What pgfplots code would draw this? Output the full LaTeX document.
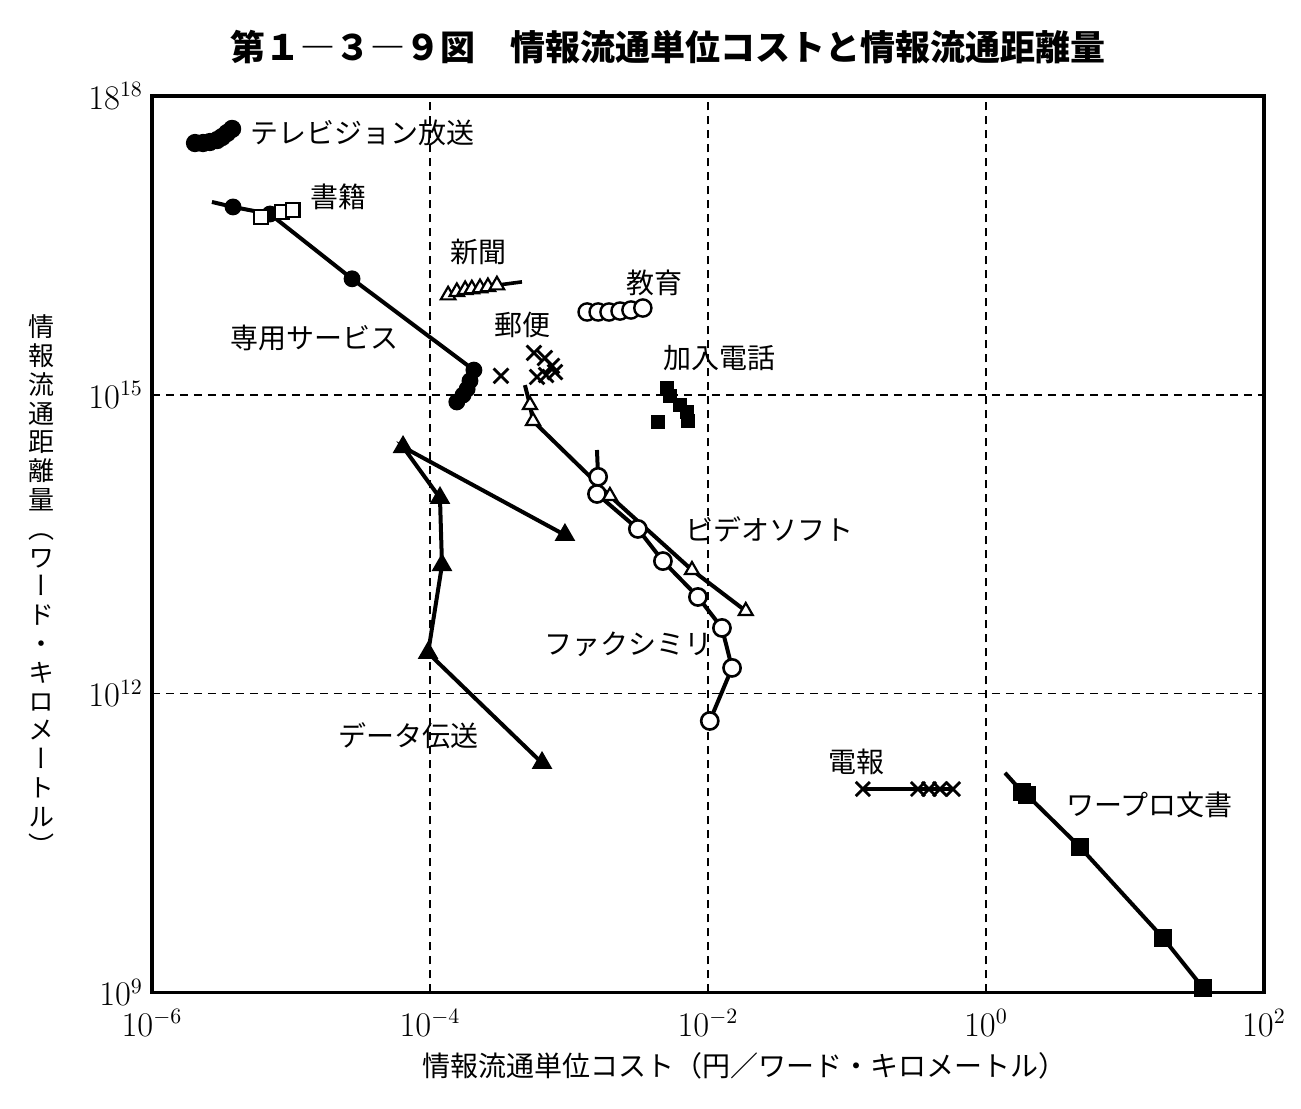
\documentclass[border=0pt]{standalone}
\usepackage{pgfplots}
\pgfplotsset{compat=1.18}
\usepackage{fontspec}
\newfontfamily\cjk{Noto Sans CJK JP}
\newfontfamily\cjkv[RawFeature=+vert]{Noto Sans CJK JP}

\begin{document}
\begin{tikzpicture}
\begin{loglogaxis}[
  scale only axis, width=556pt, height=448.2pt,
  xmin=1e-6, xmax=1e2, ymin=1e9, ymax=1e18,
  xtick={1e-6,1e-4,1e-2,1,1e2},
  xticklabels={$10^{-6}$,$10^{-4}$,$10^{-2}$,$10^{0}$,$10^{2}$},
  ytick={1e9,1e12,1e15,1e18},
  yticklabels={$10^{9}$,$10^{12}$,$10^{15}$,$18^{18}$},
  minor xtick={}, minor ytick={},
  tick style={draw=none},
  grid=major,
  major grid style={black, line width=0.9pt, dash pattern=on 4pt off 3pt},
  axis line style={line width=1.6pt},
  tick label style={font=\fontsize{16}{19}\selectfont},
  xticklabel style={yshift=-5pt},
  yticklabel style={xshift=-1pt},
  clip=false,
]
% テレビジョン放送
\addplot[black, line width=2.5pt, mark=*, mark size=3.3pt] table {
x y
2.04e-6 3.37e17
2.33e-6 3.37e17
2.61e-6 3.45e17
2.94e-6 3.61e17
3.19e-6 3.87e17
3.47e-6 4.25e17
3.77e-6 4.67e17
};
% 専用サービス
\addplot[black, line width=2pt, mark=*, mark size=3.2pt, mark indices={2,3,4,5,6,7,8,9}] table {
x y
2.70e-6 8.63e16
3.83e-6 7.69e16
7.06e-6 6.53e16
2.75e-5 1.46e16
2.07e-4 1.77e15
1.94e-4 1.38e15
1.85e-4 1.14e15
1.73e-4 9.95e14
1.56e-4 8.47e14
};
% 書籍
\addplot[black, line width=1.1pt, only marks, mark=square*, mark size=3.4pt, mark options={fill=white}] table {
x y
6.08e-6 6.10e16
8.61e-6 6.84e16
1.03e-5 7.16e16
};
% 新聞
\addplot[black, line width=1.8pt, mark=triangle*, mark size=4.2pt, mark options={fill=white, line width=1.1pt}, mark indices={1,2,3,4,5,6,7}] table {
x y
1.35e-4 1.00e16
1.56e-4 1.08e16
1.79e-4 1.13e16
2.00e-4 1.15e16
2.29e-4 1.18e16
2.61e-4 1.21e16
3.03e-4 1.26e16
4.59e-4 1.36e16
};
% 教育
\addplot[black, only marks, mark=*, mark size=4.3pt, mark options={fill=white, line width=1.2pt}] table {
x y
1.35e-3 6.78e15
1.62e-3 6.78e15
1.94e-3 6.78e15
2.33e-3 6.93e15
2.79e-3 7.10e15
3.40e-3 7.43e15
};
% 郵便
\addplot[black, only marks, mark=x, mark size=5.2pt, mark options={line width=1.4pt}] table {
x y
3.24e-4 1.55e15
5.60e-4 2.63e15
6.71e-4 2.34e15
7.55e-4 1.95e15
5.89e-4 1.51e15
6.84e-4 1.58e15
7.93e-4 1.69e15
};
% 加入電話
\addplot[black, only marks, mark=square*, mark size=3.3pt] table {
x y
5.07e-3 1.17e15
5.33e-3 9.73e14
6.30e-3 7.91e14
7.06e-3 6.72e14
7.18e-3 5.46e14
4.37e-3 5.33e14
};
% ファクシミリ
\addplot[black, line width=2pt, mark=*, mark size=4.3pt, mark options={fill=white, line width=1.3pt}, mark indices={2,3,4,5,6,7,8,9}] table {
x y
1.59e-3 2.79e14
1.62e-3 1.50e14
1.59e-3 1.01e14
3.13e-3 4.50e13
4.74e-3 2.14e13
8.47e-3 9.33e12
1.26e-2 4.56e12
1.49e-2 1.81e12
1.03e-2 5.31e11
};
% ビデオソフト
\addplot[black, line width=2pt, mark=triangle*, mark size=4pt, mark options={fill=white, line width=1.1pt}, mark indices={2,3,4,5,6}] table {
x y
4.82e-4 1.25e15
5.24e-4 7.91e14
5.51e-4 5.46e14
1.97e-3 9.64e13
7.67e-3 1.74e13
1.87e-2 6.75e12
};
% データ伝送
\addplot[black, line width=2pt, mark=triangle*, mark size=4pt] table {
x y
9.35e-4 3.91e13
6.40e-5 2.99e14
1.18e-4 9.20e13
1.22e-4 1.95e13
9.69e-5 2.56e12
6.40e-4 2.01e11
};
% 電報
\addplot[black, line width=2pt, mark=x, mark size=5pt, mark options={line width=1.4pt}] table {
x y
0.130 1.10e11
0.324 1.10e11
0.389 1.10e11
0.467 1.10e11
0.579 1.10e11
};
% ワープロ文書
\addplot[black, line width=2pt, mark=square*, mark size=3.5pt, mark indices={2,3,4,5,6}] table {
x y
1.37 1.60e11
1.82 1.03e11
1.97 9.60e10
4.74 2.88e10
18.8 3.52e9
36.4 1.11e9
};

\begin{scope}[every node/.style={anchor=west, inner sep=0pt, font=\cjk\fontsize{14}{16}\selectfont}]
\node at (rel axis cs:0.088,0.959) {テレビジョン放送};
\node at (rel axis cs:0.142,0.887) {書籍};
\node at (rel axis cs:0.268,0.826) {新聞};
\node at (rel axis cs:0.426,0.791) {教育};
\node at (rel axis cs:0.070,0.730) {専用サービス};
\node at (rel axis cs:0.308,0.745) {郵便};
\node at (rel axis cs:0.460,0.708) {加入電話};
\node at (rel axis cs:0.479,0.516) {ビデオソフト};
\node at (rel axis cs:0.353,0.388) {ファクシミリ};
\node at (rel axis cs:0.167,0.286) {データ伝送};
\node at (rel axis cs:0.608,0.257) {電報};
\node at (rel axis cs:0.822,0.209) {ワープロ文書};
\end{scope}

\node[font=\cjk\bfseries\fontsize{17.5}{20}\selectfont, inner sep=0pt] at (rel axis cs:0.464,1.0547) {第１―３―９図　情報流通単位コストと情報流通距離量};
\node[font=\cjk\fontsize{14}{16}\selectfont, inner sep=0pt] at (rel axis cs:0.533,-0.082) {情報流通単位コスト（円／ワード・キロメートル）};
\node[font=\cjkv\fontsize{13}{14.4}\selectfont, align=center, inner sep=0pt] at (rel axis cs:-0.099,0.4545) {情\\報\\流\\通\\距\\離\\量\\（\\ワ\\ー\\ド\\・\\キ\\ロ\\メ\\ー\\ト\\ル\\）};

\coordinate (bl) at (rel axis cs:-0.1367,-0.1301);
\coordinate (tr) at (rel axis cs:1.0333,1.1071);
\end{loglogaxis}
\pgfresetboundingbox
\path[use as bounding box] (bl) rectangle (tr);
\end{tikzpicture}
\end{document}
